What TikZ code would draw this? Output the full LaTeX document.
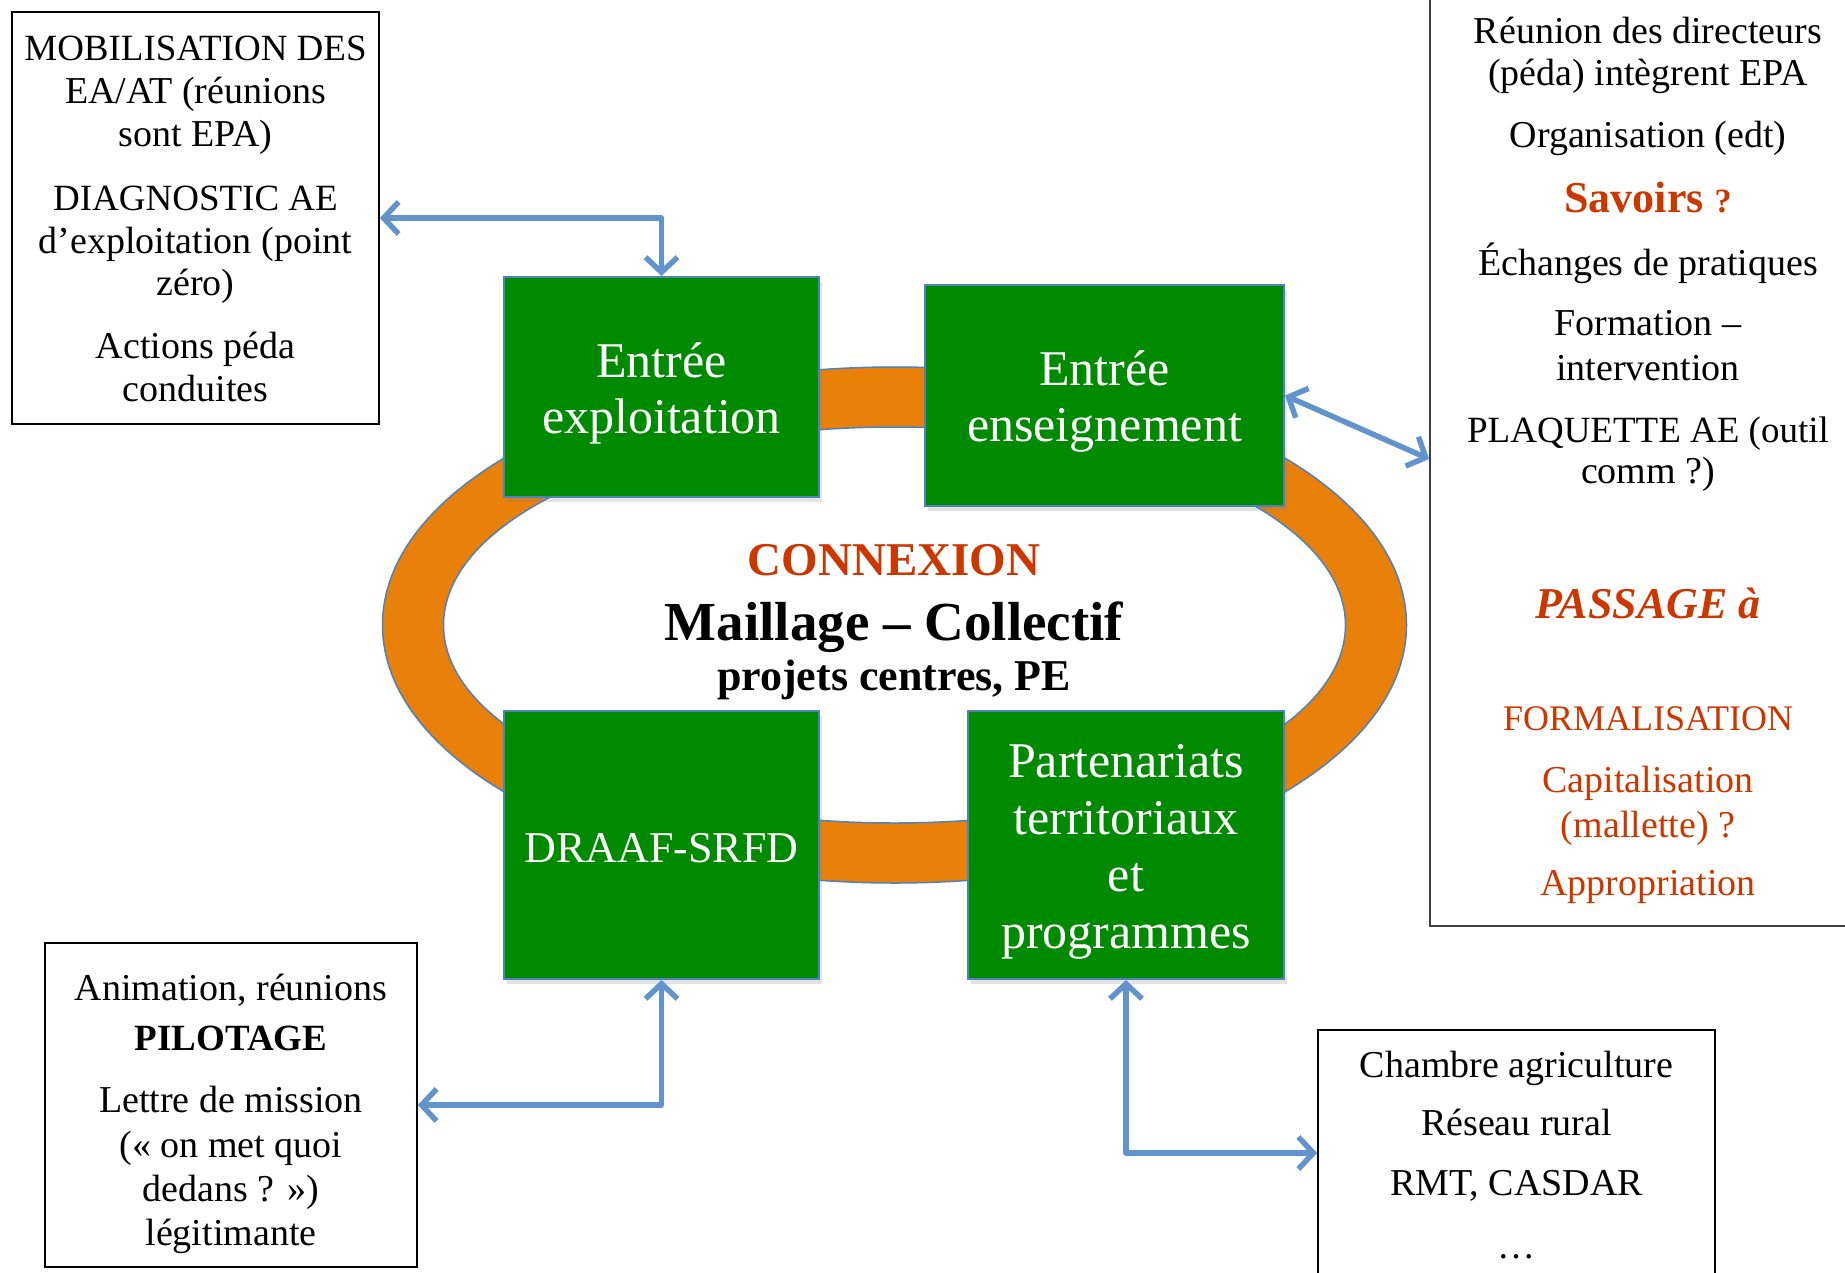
\documentclass[tikz,border=0pt]{standalone}
\usepackage{fontspec}
\setmainfont{Liberation Serif}
\usetikzlibrary{arrows.meta,shadows}
\definecolor{boxgreen}{RGB}{0,138,0}
\definecolor{ringorange}{RGB}{232,128,10}
\definecolor{edgeblue}{RGB}{79,129,189}
\definecolor{arrowblue}{RGB}{97,148,204}
\definecolor{txtred}{RGB}{204,55,0}
\newcommand{\setfs}[2]{\fontsize{#1}{#2}\selectfont}
\tikzset{
  greenbox/.style={draw=edgeblue, line width=2pt, fill=boxgreen, inner sep=0pt,
    drop shadow={shadow xshift=3pt, shadow yshift=-5pt, opacity=0.22}},
  notebox/.style={draw=black, line width=1.6pt, inner sep=0pt},
  line/.style={anchor=base, inner sep=0pt, font=\setfs{38}{44}},
  redline/.style={line, text=txtred},
  wline/.style={anchor=base, inner sep=0pt, text=white, font=\setfs{50}{57}},
  biarrow/.style={draw=arrowblue, line width=5.5pt, line join=round,
    arrows={Straight Barb[length=15pt,width=32pt]-Straight Barb[length=15pt,width=32pt]}},
}
\begin{document}
\begin{tikzpicture}[x=1pt,y=-1pt]
\useasboundingbox (0,0) rectangle (1845,1272);
\clip (0,0) rectangle (1845,1272);
\fill[white] (0,0) rectangle (1845,1272);

% ring
\fill[ringorange, even odd rule] (894.5,625) ellipse [x radius=512, y radius=258]
  (894.5,625) ellipse [x radius=451, y radius=198];
\draw[edgeblue, line width=1.5pt] (894.5,625) ellipse [x radius=512, y radius=258]
  (894.5,625) ellipse [x radius=451, y radius=198];

% green boxes
\node[greenbox, minimum width=315pt, minimum height=220pt] (ex) at (661.5,387) {};
\node[greenbox, minimum width=359pt, minimum height=221pt] (en) at (1104.5,395.5) {};
\node[greenbox, minimum width=315pt, minimum height=268pt] (dr) at (661.5,845) {};
\node[greenbox, minimum width=316pt, minimum height=268pt] (pt) at (1126,845) {};

\node[wline] (ex1) at (661.5,377) {Entrée};
\node[wline] (ex2) at (661.5,433) {exploitation};
\node[wline] (en1) at (1104.5,385) {Entrée};
\node[wline] (en2) at (1104.5,441) {enseignement};
\node[wline, font=\setfs{44}{50}] (dr1) at (661.5,862) {DRAAF-SRFD};
\node[wline] (pt1) at (1126,777) {Partenariats};
\node[wline] (pt2) at (1126,834) {territoriaux};
\node[wline] (pt3) at (1126,891) {et};
\node[wline] (pt4) at (1126,948) {programmes};

% centre text
\node[line, text=txtred, font=\setfs{47}{52}\bfseries] (c1) at (894,575) {CONNEXION};
\node[line, font=\setfs{55}{60}\bfseries] (c2) at (894,640) {Maillage – Collectif};
\node[line, font=\setfs{44}{50}\bfseries] (c3) at (894,690) {projets centres, PE};

% note boxes
\node[notebox, minimum width=367pt, minimum height=412pt] (tl) at (195.5,218) {};
\node[notebox, minimum width=372pt, minimum height=324pt] (bl) at (231,1105) {};
\node[notebox, minimum width=397pt, minimum height=246pt] (br) at (1516.5,1153) {};
\node[notebox, draw=black!75, minimum width=430pt, minimum height=934pt] (rb) at (1645,459) {};

% top-left text
\node[line, font=\setfs{37}{43}] (tl1) at (195.5,60) {MOBILISATION DES};
\node[line] (tl2) at (195.5,103) {EA/AT (réunions};
\node[line] (tl3) at (195.5,146) {sont EPA)};
\node[line, font=\setfs{37}{43}] (tl4) at (195.5,210) {DIAGNOSTIC AE};
\node[line] (tl5) at (195.5,253) {d’exploitation (point};
\node[line] (tl6) at (195.5,295) {zéro)};
\node[line] (tl7) at (195.5,358) {Actions péda};
\node[line] (tl8) at (195.5,401) {conduites};

% bottom-left text
\node[line] (bl1) at (231,1000) {Animation, réunions};
\node[line, font=\setfs{37}{43}\bfseries] (bl2) at (231,1050) {PILOTAGE};
\node[line] (bl3) at (231,1112) {Lettre de mission};
\node[line] (bl4) at (231,1157) {(« on met quoi};
\node[line] (bl5) at (231,1201) {dedans ? »)};
\node[line] (bl6) at (231,1245) {légitimante};

% bottom-right text
\node[line] (br1) at (1516.5,1077) {Chambre agriculture};
\node[line] (br2) at (1516.5,1135) {Réseau rural};
\node[line] (br3) at (1516.5,1195) {RMT, CASDAR};
\node[line] (br4) at (1516.5,1258) {…};

% right text
\node[line] (r1) at (1648,43) {Réunion des directeurs};
\node[line] (r2) at (1648,85) {(péda) intègrent EPA};
\node[line] (r3) at (1648,147) {Organisation (edt)};
\node[line, text=txtred, font=\setfs{44}{50}\bfseries] (r4) at (1648,212) {Savoirs {\setfs{34}{38}?}};
\node[line] (r5) at (1648,275) {Échanges de pratiques};
\node[line] (r6) at (1648,335) {Formation –};
\node[line] (r7) at (1648,380) {intervention};
\node[line, font=\setfs{37}{43}] (r8) at (1648,442) {PLAQUETTE AE (outil};
\node[line] (r9) at (1648,483) {comm ?)};
\node[line, text=txtred, font=\setfs{44}{50}\bfseries\itshape] (r10) at (1648,618) {PASSAGE à};
\node[redline, font=\setfs{36}{42}] (r11) at (1648,730) {FORMALISATION};
\node[redline] (r12) at (1648,792) {Capitalisation};
\node[redline] (r13) at (1648,837) {(mallette) ?};
\node[redline] (r14) at (1648,895) {Appropriation};

% connectors
\draw[biarrow] (tl.east) -| (ex.north);
\draw[biarrow] (en.east) -- (rb.west);
\draw[biarrow] (dr.south) |- (bl.east);
\draw[biarrow] (pt.south) |- (br.west);
\end{tikzpicture}
\end{document}
